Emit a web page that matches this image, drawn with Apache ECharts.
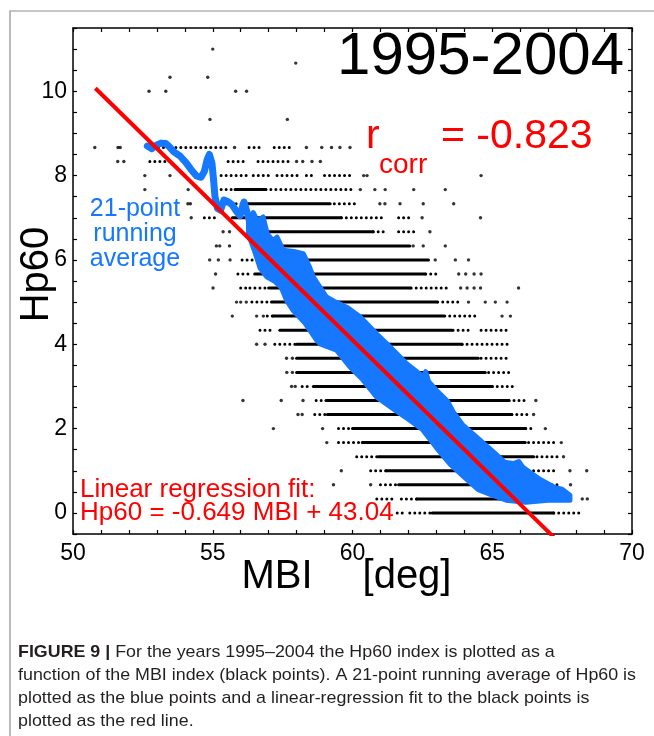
<!DOCTYPE html>
<html>
<head>
<meta charset="utf-8">
<script src="https://cdn.jsdelivr.net/npm/echarts@6/dist/echarts.min.js"></script>
<style>
  html, body { margin: 0; padding: 0; background: #fff; }
  #chart { width: 654px; height: 736px; }
</style>
</head>
<body>
<div id="chart"></div>
<script>
// ---- Hp60 vs MBI, 1995-2004 ----
// Hp60 is reported in steps of 1/3, so the black points sit on horizontal rows.

// Isolated black points [MBI, Hp60]
const singlePoints = [
  [55.0, 11], [57.97, 10.667], [53.47, 10.333], [54.82, 10.333],
  [52.72, 10], [53.32, 10], [55.82, 10], [56.21, 10],
  [54.9, 9.333], [57.67, 9.333],
  [50.78, 8.667], [51.61, 8.667], [51.69, 8.667], [55.78, 8.667], [58.35, 8.667],
  [58.9, 8.667], [59.25, 8.667], [59.55, 8.667], [59.91, 8.667],
  [51.6, 8.333], [51.82, 8.333], [58.0, 8.333], [58.22, 8.333], [58.55, 8.333], [58.85, 8.333],
  [52.57, 8], [53.47, 8], [60.4, 8], [60.52, 8], [64.6, 8],
  [52.57, 7.667], [54.12, 7.667], [60.28, 7.667], [60.8, 7.667], [61.17, 7.667], [62.19, 7.667], [63.32, 7.667],
  [54.11, 7.333], [54.2, 7.333], [60.98, 7.333], [61.16, 7.333], [61.7, 7.333], [62.53, 7.333], [63.62, 7.333],
  [54.23, 7], [62.49, 7], [64.58, 7],
  [55.37, 6.667], [55.6, 6.667], [62.77, 6.667],
  [55.13, 6.333], [55.25, 6.333], [55.6, 6.333], [62.17, 6.333], [62.53, 6.333], [63.32, 6.333],
  [54.89, 6], [55.2, 6], [55.62, 6], [62.96, 6], [63.68, 6], [64.15, 6],
  [55.1, 5.667], [63.8, 5.667], [64.05, 5.667], [64.35, 5.667], [64.6, 5.667],
  [55.01, 5.333], [63.87, 5.333], [64.1, 5.333], [64.35, 5.333], [64.58, 5.333], [65.94, 5.333],
  [55.85, 5], [56.0, 5], [56.2, 5], [64.15, 5], [64.75, 5], [65.11, 5], [65.53, 5],
  [55.7, 4.667], [56.57, 4.667], [56.81, 4.667], [65.35, 4.667], [65.65, 4.667],
  [56.57, 4], [56.87, 4],
  [57.64, 3.667], [57.85, 3.667],
  [57.65, 3.333], [57.85, 3.333],
  [57.82, 3], [57.95, 3],
  [56.08, 2.667], [57.45, 2.667], [58.23, 2.667], [66.56, 2.667],
  [58.05, 2.333], [58.2, 2.333], [66.48, 2.333],
  [57.17, 2], [58.93, 2], [66.9, 2],
  [59.08, 1.667], [67.47, 1.667],
  [67.55, 1.333],
  [59.6, 1], [67.78, 1], [68.38, 1],
  [59.32, 0.667], [60.65, 0.667], [67.8, 0.667],
  [68.22, 0.333], [68.4, 0.333]
];

// Rows of tightly packed points that merge into solid bars [MBI from, MBI to, Hp60]
const denseRuns = [
  [55.8, 56.9, 7.667], [56.2, 59.2, 7.333], [55.7, 59.6, 7], [56.3, 60.74, 6.667],
  [57.2, 62.05, 6.333], [56.6, 62.72, 6], [56.5, 62.6, 5.667], [57.0, 62.07, 5.333],
  [57.1, 63.02, 5], [57.16, 63.26, 4.667], [57.4, 63.56, 4.333], [58.0, 63.92, 4],
  [58.0, 64.5, 3.667], [58.0, 64.75, 3.333], [58.6, 65.0, 3], [59.05, 65.6, 2.667],
  [59.1, 65.7, 2.333], [60.0, 66.18, 2], [60.35, 66.18, 1.667], [60.93, 66.48, 1.333],
  [61.2, 66.3, 1], [61.65, 66.6, 0.667], [62.3, 67.3, 0.333], [62.85, 67.2, 0]
];

// Rows of loosely spaced points [MBI from, MBI to, Hp60]
const looseRuns = [
  [52.7, 53.4, 8.667], [53.5, 55.5, 8.667], [56.3, 56.74, 8.667], [57.2, 57.87, 8.667],
  [52.75, 53.6, 8.333], [55.55, 56.25, 8.333], [56.62, 57.7, 8.333],
  [55.3, 56.2, 8], [56.45, 57.1, 8], [57.3, 58.1, 8], [58.35, 58.7, 8], [59.0, 60.05, 8],
  [55.3, 55.8, 7.667], [56.9, 60.05, 7.667],
  [55.3, 56.2, 7.333], [59.35, 60.15, 7.333],
  [54.7, 55.1, 7], [59.6, 61.15, 7], [61.65, 62.07, 7],
  [60.74, 61.2, 6.667], [61.65, 62.3, 6.667],
  [56.5, 57.2, 6.333],
  [56.05, 56.5, 6],
  [55.9, 56.35, 5.667], [62.62, 63.05, 5.667],
  [56.0, 56.2, 5.333], [56.33, 56.95, 5.333], [62.1, 63.5, 5.333],
  [56.4, 57.1, 5], [63.05, 63.87, 5],
  [56.95, 57.15, 4.667], [63.3, 64.45, 4.667],
  [56.69, 57.2, 4.333], [63.6, 64.3, 4.333], [64.6, 65.5, 4.333],
  [57.22, 58.0, 4], [63.92, 65.6, 4],
  [64.6, 65.6, 3.667],
  [64.87, 65.65, 3.333],
  [58.2, 58.5, 3], [65.0, 65.8, 3],
  [58.7, 59.05, 2.667], [65.6, 66.2, 2.667],
  [58.65, 59.1, 2.333], [65.7, 66.3, 2.333],
  [59.5, 60.0, 2], [66.2, 66.5, 2],
  [59.5, 60.35, 1.667], [66.3, 67.26, 1.667],
  [60.15, 60.93, 1.333], [66.6, 67.38, 1.333],
  [60.65, 61.2, 1], [66.3, 67.3, 1],
  [61.0, 61.65, 0.667], [66.6, 67.45, 0.667],
  [60.87, 61.55, 0.333], [61.75, 62.3, 0.333], [67.3, 67.6, 0.333],
  [61.6, 61.95, 0], [62.05, 62.8, 0], [67.2, 68.1, 0]
];

// 21-point running average of Hp60: sparse high-Hp60 end, drawn as a trace [MBI, Hp60]
const runningAvgTrace = [
  [52.66, 8.70], [52.82, 8.64], [52.98, 8.72], [53.15, 8.77], [53.32, 8.76],
  [53.45, 8.68], [53.60, 8.57], [53.82, 8.47], [54.05, 8.30], [54.25, 8.12],
  [54.42, 7.99], [54.58, 7.96], [54.70, 8.10], [54.80, 8.38], [54.88, 8.50],
  [54.97, 8.30], [55.03, 7.90], [55.08, 7.50], [55.17, 7.22], [55.28, 7.18],
  [55.40, 7.42], [55.55, 7.38], [55.70, 7.30], [55.85, 7.15], [55.97, 7.05],
  [56.12, 7.37], [56.22, 7.15], [56.32, 6.90]
];

// Running average, dense part: upper and lower edges of the blue cloud [MBI, Hp60]
const runningAvgUpper = [
  [56.28, 6.95], [56.45, 7.12], [56.6, 6.92], [56.8, 7.02], [56.95, 6.62], [57.16, 6.46],
  [57.3, 6.54], [57.52, 6.23], [57.9, 6.2], [58.24, 6.15], [58.45, 5.85], [58.6, 5.59],
  [59.07, 5.12], [59.4, 5.0], [59.79, 4.88], [60.27, 4.65], [60.86, 4.25], [61.34, 3.94],
  [61.94, 3.54], [62.53, 3.23], [62.62, 3.35], [62.72, 3.12], [63.0, 2.91], [63.4, 2.65],
  [63.6, 2.4], [63.95, 2.08], [64.4, 1.82], [65.0, 1.47], [65.45, 1.2], [65.75, 1.17],
  [65.95, 1.22], [66.1, 1.08], [66.7, 0.8], [67.25, 0.6], [67.5, 0.56], [67.78, 0.42]
];
const runningAvgLower = [
  [56.28, 6.6], [56.5, 6.2], [56.7, 5.8], [56.93, 5.6], [57.2, 5.5], [57.45, 5.35],
  [57.64, 5.04], [57.88, 4.8], [58.3, 4.5], [58.72, 4.09], [58.84, 4.01], [59.43, 3.86],
  [59.91, 3.46], [60.38, 3.15], [60.86, 2.75], [61.5, 2.45], [62.0, 2.22], [62.5, 1.98],
  [63.0, 1.55], [63.5, 1.15], [64.0, 0.85], [64.5, 0.55], [65.0, 0.42], [65.5, 0.3],
  [66.2, 0.25], [67.0, 0.3], [67.78, 0.3]
];

// Linear regression fit to the black points
const fitSlope = -0.649;
const fitIntercept = 43.04;
const fitMbiRange = [50.8, 67.2];
const corrCoefficient = -0.823;

// Axes
const xTickLabels = [50, 55, 60, 65, 70];
const yTickLabels = [0, 2, 4, 6, 8, 10];

// Caption
const captionLead = 'FIGURE 9 |';
const captionLines = [
  'For the years 1995\u20132004 the Hp60 index is plotted as a',
  'function of the MBI index (black points). A 21-point running average of Hp60 is',
  'plotted as the blue points and a linear-regression fit to the black points is',
  'plotted as the red line.'
];

const BLUE = '#1677ff';
const RED = '#ff0000';
const FONT = '"Liberation Sans", Arial, Helvetica, sans-serif';

const fitLine = fitMbiRange.map(m => [m, fitSlope * m + fitIntercept]);

// caption is set in a narrow face: compress regular text to the caption width
const measureCtx = document.createElement('canvas').getContext('2d');
measureCtx.font = '17px ' + FONT;
const captionScale = 618 / measureCtx.measureText(captionLines[1]).width;

function runRenderer(dash) {
  return function (params, api) {
    const a = api.coord([api.value(0), api.value(2)]);
    const b = api.coord([api.value(1), api.value(2)]);
    return {
      type: 'line',
      shape: { x1: a[0], y1: a[1], x2: b[0], y2: b[1] },
      style: { stroke: '#000', lineWidth: 3, lineCap: 'round', lineDash: dash }
    };
  };
}

const axisCommon = {
  type: 'value',
  axisLine: { show: true, onZero: false, lineStyle: { color: '#000', width: 1.5 } },
  axisTick: { show: true, inside: true, length: 4, lineStyle: { color: '#000', width: 1.2 } },
  splitLine: { show: false }
};

const chart = echarts.init(document.getElementById('chart'), null, { renderer: 'canvas' });

const captionGraphics = captionLines.map((line, i) => ({
  type: 'text',
  x: 18,
  y: 652 + i * 23.2,
  scaleX: captionScale,
  z: 100,
  style: {
    text: i === 0 ? '{b|' + captionLead + '} ' + line : line,
    fontSize: 17,
    fontFamily: FONT,
    fill: '#231f20',
    textAlign: 'left',
    textVerticalAlign: 'middle',
    rich: { b: { fontSize: 17, fontFamily: FONT, fontWeight: 'bold', fill: '#231f20' } }
  }
}));

chart.setOption({
  animation: false,
  backgroundColor: '#fff',
  grid: { left: 73, top: 28, width: 559, height: 506, containLabel: false },
  xAxis: [
    Object.assign({}, axisCommon, {
      position: 'bottom', min: 50, max: 70, interval: 1,
      axisLabel: {
        show: true, margin: 8, color: '#000', fontSize: 23, fontFamily: FONT,
        formatter: v => (xTickLabels.includes(v) ? String(v) : '')
      }
    }),
    Object.assign({}, axisCommon, {
      position: 'top', min: 50, max: 70, interval: 1, axisLabel: { show: false }
    })
  ],
  yAxis: [
    Object.assign({}, axisCommon, {
      position: 'left', min: -0.5, max: 11.5, interval: 0.5,
      axisLabel: {
        show: true, margin: 6, color: '#000', fontSize: 23, fontFamily: FONT,
        formatter: v => (yTickLabels.includes(v) ? String(v) : '')
      }
    }),
    Object.assign({}, axisCommon, {
      position: 'right', min: -0.5, max: 11.5, interval: 0.5, axisLabel: { show: false }
    })
  ],
  series: [
    {
      type: 'custom', name: 'Hp60 rows (dense)', coordinateSystem: 'cartesian2d',
      data: denseRuns, encode: { x: [0, 1], y: 2 }, silent: true, z: 1,
      renderItem: runRenderer(null)
    },
    {
      type: 'custom', name: 'Hp60 rows (loose)', coordinateSystem: 'cartesian2d',
      data: looseRuns, encode: { x: [0, 1], y: 2 }, silent: true, z: 1,
      renderItem: runRenderer([0, 5])
    },
    {
      type: 'scatter', name: 'Hp60', data: singlePoints, symbol: 'circle', symbolSize: 3.4,
      itemStyle: { color: '#000' }, silent: true, z: 1
    },
    {
      type: 'custom', name: '21-point running average', coordinateSystem: 'cartesian2d',
      data: [runningAvgUpper[0]], silent: true, z: 2,
      renderItem: function (params, api) {
        const pts = runningAvgUpper.map(p => api.coord(p))
          .concat(runningAvgLower.slice().reverse().map(p => api.coord(p)));
        return {
          type: 'polygon',
          shape: { points: pts },
          style: { fill: BLUE, stroke: BLUE, lineWidth: 5, lineJoin: 'round' }
        };
      }
    },
    {
      type: 'line', name: '21-point running average trace', data: runningAvgTrace,
      showSymbol: false, silent: true, z: 2,
      lineStyle: { color: BLUE, width: 7, cap: 'round', join: 'round' }
    },
    {
      type: 'line', name: 'Linear regression fit', data: fitLine, clip: true,
      showSymbol: false, silent: true, z: 3,
      lineStyle: { color: RED, width: 4 }
    }
  ],
  graphic: [
    {
      type: 'polyline', z: 0, silent: true,
      shape: { points: [[10, 736], [10, 11], [654, 11]] },
      style: { stroke: '#8c8c8c', lineWidth: 1.2, fill: null }
    },
    {
      type: 'text', x: 624, y: 57.5, z: 100,
      style: { text: '1995-2004', fontSize: 60, fontFamily: FONT, fill: '#000', textAlign: 'right', textVerticalAlign: 'middle' }
    },
    {
      type: 'text', x: 366, y: 137, z: 100,
      style: { text: 'r', fontSize: 41, fontFamily: FONT, fill: RED, textAlign: 'left', textVerticalAlign: 'middle' }
    },
    {
      type: 'text', x: 379, y: 165.5, z: 100,
      style: { text: 'corr', fontSize: 28, fontFamily: FONT, fill: RED, textAlign: 'left', textVerticalAlign: 'middle' }
    },
    {
      type: 'text', x: 441, y: 137, z: 100,
      style: { text: '= ' + corrCoefficient.toFixed(3), fontSize: 41, fontFamily: FONT, fill: RED, textAlign: 'left', textVerticalAlign: 'middle' }
    },
    {
      type: 'text', x: 135, y: 234.5, z: 100,
      style: { text: '21-point\nrunning\naverage', fontSize: 25, lineHeight: 25, fontFamily: FONT, fill: BLUE, textAlign: 'center', textVerticalAlign: 'middle' }
    },
    {
      type: 'text', x: 80, y: 489.5, z: 100,
      style: { text: 'Linear regression fit:', fontSize: 26, fontFamily: FONT, fill: RED, textAlign: 'left', textVerticalAlign: 'middle' }
    },
    {
      type: 'text', x: 80, y: 512.5, z: 100,
      style: {
        text: 'Hp60 = ' + fitSlope.toFixed(3) + ' MBI + ' + fitIntercept.toFixed(2),
        fontSize: 26, fontFamily: FONT, fill: RED, textAlign: 'left', textVerticalAlign: 'middle'
      }
    },
    {
      type: 'text', x: 277, y: 577, z: 100,
      style: { text: 'MBI', fontSize: 40, fontFamily: FONT, fill: '#000', textAlign: 'center', textVerticalAlign: 'middle' }
    },
    {
      type: 'text', x: 407, y: 577, z: 100,
      style: { text: '[deg]', fontSize: 40, fontFamily: FONT, fill: '#000', textAlign: 'center', textVerticalAlign: 'middle' }
    },
    {
      type: 'text', x: 37, y: 274.5, rotation: Math.PI / 2, z: 100,
      style: { text: 'Hp60', fontSize: 40, fontFamily: FONT, fill: '#000', textAlign: 'center', textVerticalAlign: 'middle' }
    }
  ].concat(captionGraphics)
});
</script>
</body>
</html>
